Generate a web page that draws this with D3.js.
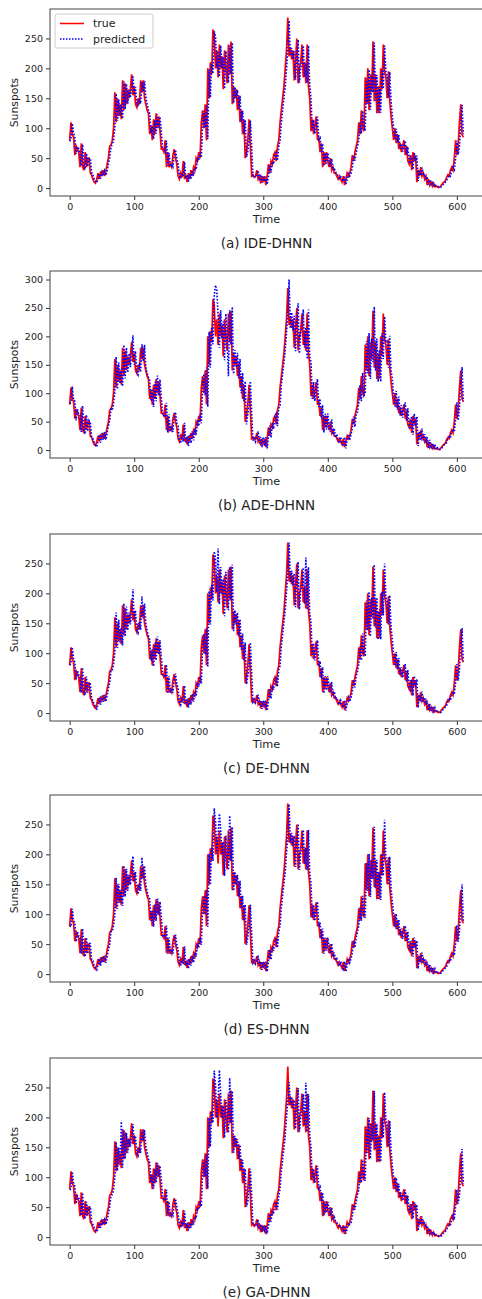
<!DOCTYPE html>
<html>
<head>
<meta charset="utf-8">
<script src="https://cdn.jsdelivr.net/npm/d3@7"></script>
<style>
  body { margin: 0; background: #fff; }
  text { font-family: "DejaVu Sans", sans-serif; fill: #222; }
</style>
</head>
<body>
<div id="my_dataviz"></div>
<script>
// time step between samples (time units)
const timeStep = 2;

// true sunspot series, one value every 2 time units (t = 0 .. 610)
const trueValues = [
  80,110,90,85,55,70,65,60,35,75,
  35,30,60,35,50,50,25,22,15,10,
  8,15,25,15,28,20,30,20,28,40,
  50,70,72,80,100,160,110,150,120,140,
  115,180,130,175,140,165,150,165,190,155,
  170,140,135,150,140,180,160,180,150,140,
  130,125,90,105,80,115,90,125,100,120,
  95,65,65,60,80,35,60,35,40,35,
  55,65,50,40,20,15,25,18,45,15,
  22,10,25,15,30,20,35,30,50,45,
  60,50,110,130,100,140,80,200,150,210,
  190,265,255,200,230,185,240,200,220,165,
  230,200,175,240,190,245,140,170,150,165,
  130,155,110,130,90,115,50,60,80,115,
  70,20,22,18,20,30,15,20,8,20,
  10,20,5,20,40,25,45,40,55,60,
  45,70,80,110,130,150,170,200,230,285,
  220,235,215,230,180,215,250,175,200,210,
  240,185,210,175,240,170,150,95,115,90,
  105,120,80,85,60,75,35,60,40,60,
  45,35,50,30,35,25,25,20,15,20,
  15,10,20,5,15,25,20,25,35,55,
  45,60,70,80,110,90,130,100,95,185,
  140,200,130,190,160,245,145,190,125,170,
  125,200,165,240,195,185,150,195,145,120,
  100,80,100,75,90,65,75,60,70,80,
  55,70,45,40,55,30,60,45,55,10,
  30,20,35,20,25,15,20,5,15,5,
  10,3,8,2,3,2,1,2,5,8,
  10,12,18,22,20,30,35,30,50,80,
  55,70,110,140,90,85
];

// predicted series for each model
const predIDE = [
  78,82,108,92,84,57,69,66,58,37,
  73,37,31,58,36,49,50,26,23,15,
  11,9,15,24,16,27,21,29,21,28,
  40,51,69,73,80,101,158,112,148,121,
  139,116,178,132,174,141,164,151,165,188,
  156,169,141,136,149,141,178,161,179,151,
  140,131,124,92,104,82,114,91,123,101,
  119,94,66,65,61,79,37,59,36,40,
  36,54,64,50,40,21,16,25,19,44,
  16,22,11,24,16,30,21,34,31,49,
  46,59,51,108,129,101,139,82,198,151,
  208,191,262,254,201,229,186,238,201,219,
  166,229,199,176,238,191,243,142,169,151,
  164,131,154,111,129,91,114,52,61,80,
  113,70,21,22,18,20,29,16,20,9,
  19,11,19,6,20,39,26,44,40,54,
  59,46,69,80,109,130,150,170,199,230,
  280,221,234,216,229,181,214,248,176,200,
  209,238,186,209,176,238,171,149,96,114,
  91,104,119,81,84,61,74,37,59,41,
  59,45,36,49,31,34,26,25,20,16,
  19,15,11,19,6,15,24,20,25,35,
  54,46,59,70,80,109,91,129,101,96,
  183,141,198,131,189,160,243,146,189,126,
  169,126,198,166,238,195,184,151,194,146,
  120,100,81,99,76,89,66,74,61,70,
  79,56,69,46,41,54,31,59,45,54,
  12,29,21,34,21,24,16,19,6,14,
  6,9,4,7,3,3,2,1,2,5,
  8,10,12,18,22,20,29,35,31,49,
  79,56,69,109,139,90
];

const predADE = [
  82,84,112,88,86,52,72,63,62,32,
  78,33,28,62,33,52,48,23,20,13,
  9,6,16,27,13,30,18,32,18,30,
  42,52,72,70,82,103,164,107,154,117,
  143,112,185,126,180,136,170,146,169,202,
  150,174,136,132,153,137,186,156,185,146,
  136,128,122,86,108,76,120,86,131,96,
  124,92,62,62,58,83,31,63,32,42,
  32,58,67,47,42,17,12,27,15,48,
  12,24,7,28,12,33,17,38,27,53,
  42,63,47,115,134,96,145,76,208,145,
  216,186,272,290,280,236,180,246,196,226,
  158,240,196,130,246,185,252,134,176,145,
  171,126,160,100,136,86,121,45,64,76,
  121,66,17,24,15,22,33,12,23,5,
  23,7,23,3,23,43,22,48,37,59,
  64,42,74,77,114,134,154,175,206,238,
  300,214,242,210,236,174,221,258,170,206,
  216,247,180,216,160,247,164,155,90,120,
  86,110,125,76,90,56,79,31,64,36,
  64,41,32,54,27,38,22,28,17,12,
  23,12,7,23,3,18,28,17,28,38,
  59,41,64,67,84,115,86,136,96,100,
  192,135,206,125,196,155,252,140,196,120,
  176,120,206,160,235,190,191,145,201,140,
  125,96,77,104,71,94,61,79,57,74,
  84,51,74,42,37,59,27,64,42,59,
  7,33,17,38,17,28,12,23,3,18,
  3,12,2,10,1,4,1,1,2,6,
  9,11,13,20,24,22,33,37,32,53,
  84,52,74,115,146,86
];

const predDE = [
  80,83,110,91,85,56,71,64,61,34,
  76,34,30,61,34,51,49,24,21,14,
  10,7,15,26,14,29,19,31,19,29,
  41,51,71,71,81,102,168,109,156,118,
  143,113,183,128,178,138,168,148,168,207,
  153,172,138,134,152,139,195,158,183,148,
  138,129,123,88,106,78,118,88,128,98,
  122,93,64,64,59,81,33,62,34,41,
  34,56,66,49,41,19,14,26,17,46,
  14,23,9,26,14,32,19,36,29,51,
  44,61,49,112,132,98,142,78,204,148,
  214,188,270,258,202,275,182,244,198,224,
  162,236,198,172,244,188,248,137,172,148,
  168,128,157,106,133,88,118,48,62,78,
  118,68,19,23,17,21,31,14,21,7,
  21,9,21,4,21,41,24,46,39,56,
  61,44,72,79,112,132,152,172,203,234,
  285,218,238,213,233,177,218,253,173,204,
  212,243,183,260,173,244,167,152,93,117,
  88,107,122,78,87,58,77,33,62,38,
  62,43,34,52,29,36,24,26,19,14,
  21,14,9,21,4,16,26,19,26,36,
  56,43,62,69,82,112,88,133,98,97,
  188,138,203,128,193,157,248,143,193,123,
  173,123,203,163,250,193,188,148,197,143,
  122,98,79,102,73,92,63,77,59,72,
  82,53,72,44,39,56,29,62,44,57,
  9,31,19,36,19,26,14,21,4,16,
  4,11,3,9,2,3,2,1,2,5,
  8,10,12,19,23,21,31,36,31,51,
  82,54,72,112,142,88
];

const predES = [
  81,79,109,89,86,54,71,64,61,34,
  76,34,29,61,34,51,51,24,22,14,
  10,7,16,26,14,29,19,31,19,29,
  41,49,71,71,81,99,161,109,151,119,
  141,114,181,129,176,139,166,149,166,197,
  154,171,139,134,151,139,195,159,181,149,
  139,129,126,89,106,79,116,89,126,99,
  121,96,64,66,59,81,34,61,34,41,
  34,56,66,49,41,19,14,26,17,46,
  14,23,9,26,14,31,19,36,29,51,
  44,61,49,111,131,99,141,79,201,149,
  211,189,277,256,201,231,268,241,199,221,
  164,231,199,174,265,189,246,139,171,149,
  166,129,156,109,131,89,116,49,61,79,
  116,69,19,23,17,21,31,14,21,7,
  21,9,21,4,21,41,24,46,39,56,
  61,44,71,81,111,131,151,171,201,231,
  284,219,236,214,231,179,216,251,174,201,
  211,241,184,211,174,241,169,151,94,116,
  89,106,121,79,86,59,76,34,61,39,
  61,44,34,51,29,36,24,26,19,14,
  21,14,9,21,4,16,26,19,26,36,
  56,44,61,71,81,111,89,131,99,94,
  186,139,201,129,191,159,246,144,191,124,
  171,124,201,164,258,194,186,149,196,144,
  121,99,79,101,74,91,64,76,59,71,
  81,54,71,44,39,56,29,61,44,56,
  9,31,19,36,19,26,14,21,4,16,
  4,11,3,9,2,3,2,1,2,5,
  8,10,12,19,23,21,31,36,31,51,
  81,54,71,111,150,89
];

const predGA = [
  79,81,109,91,84,56,69,66,59,36,
  74,36,31,59,36,49,51,26,21,16,
  11,9,14,24,16,27,21,29,21,27,
  39,51,69,71,79,101,159,111,149,121,
  193,116,179,131,174,141,164,151,164,189,
  156,169,141,136,149,141,179,161,179,151,
  141,131,124,91,104,81,114,91,124,101,
  119,96,66,64,61,79,36,59,36,39,
  36,54,64,51,39,21,16,24,19,44,
  16,21,11,24,16,29,21,34,31,49,
  46,59,51,109,129,101,139,81,199,151,
  209,191,278,254,199,229,279,239,199,219,
  166,229,201,174,266,191,244,141,169,151,
  164,131,154,111,129,91,114,51,59,81,
  114,71,21,21,19,19,29,16,19,9,
  19,11,19,6,19,39,26,44,41,54,
  59,46,69,81,109,129,149,169,199,229,
  259,221,234,216,229,181,214,249,176,199,
  209,239,186,258,176,239,171,149,96,114,
  91,104,119,81,84,61,74,36,59,41,
  59,46,36,49,31,34,26,24,21,16,
  19,16,11,19,6,14,24,21,24,36,
  54,46,59,71,79,109,91,129,101,94,
  184,141,199,131,189,161,244,146,189,126,
  169,126,199,166,242,194,186,151,194,146,
  119,101,81,99,76,89,66,74,61,69,
  79,56,69,46,39,56,31,59,46,54,
  11,29,21,34,21,24,16,19,6,14,
  6,9,4,7,3,3,2,1,2,5,
  8,9,12,17,22,21,29,36,29,51,
  79,56,69,109,147,89
];

const panelTitles = ["(a) IDE-DHNN", "(b) ADE-DHNN", "(c) DE-DHNN", "(d) ES-DHNN", "(e) GA-DHNN"];
const panelPredictions = [predIDE, predADE, predDE, predES, predGA];
const xTickValues = [0, 100, 200, 300, 400, 500, 600];
const yTickValues = [0, 50, 100, 150, 200, 250, 300];
const legendLabels = ["true", "predicted"];

// layout
const pageWidth = 482, pageHeight = 1299;
const plotLeft = 50, plotRight = 483, plotHeight = 187;
const panelTops = [9, 271, 534, 795, 1058];

const svg = d3.select("#my_dataviz")
  .append("svg")
    .attr("width", pageWidth)
    .attr("height", pageHeight);

// x domain like matplotlib autoscale (5% margins)
const tMax = (trueValues.length - 1) * timeStep;
const x = d3.scaleLinear()
    .domain([-0.05 * tMax, tMax * 1.05])
    .range([plotLeft, plotRight]);

panelPredictions.forEach((pred, p) => {
    const top = panelTops[p];
    const bottom = top + plotHeight;
    const g = svg.append("g");

    const allVals = trueValues.concat(pred);
    const [lo, hi] = d3.extent(allVals);
    const pad = (hi - lo) * 0.05;
    const y = d3.scaleLinear()
        .domain([lo - pad, hi + pad])
        .range([bottom, top]);

    // clip for the lines
    g.append("clipPath")
        .attr("id", "clip" + p)
      .append("rect")
        .attr("x", plotLeft)
        .attr("y", top)
        .attr("width", plotRight - plotLeft)
        .attr("height", plotHeight);

    // X axis
    const xAxis = g.append("g")
        .attr("transform", `translate(0,${bottom})`)
        .call(d3.axisBottom(x).tickValues(xTickValues).tickSize(4).tickPadding(3).tickFormat(d3.format("d")));
    // Y axis
    const yAxis = g.append("g")
        .attr("transform", `translate(${plotLeft},0)`)
        .call(d3.axisLeft(y)
            .tickValues(yTickValues.filter(v => v >= y.domain()[0] && v <= y.domain()[1]))
            .tickSize(4).tickPadding(3).tickFormat(d3.format("d")));
    [xAxis, yAxis].forEach(a => {
        a.select(".domain").remove();
        a.selectAll("line").attr("stroke", "#333");
        a.selectAll("text").style("font-size", "9.5px").attr("fill", "#222");
    });

    // lines
    const line = d3.line()
        .x((d, i) => x(i * timeStep))
        .y(d => y(d));

    g.append("path")
        .datum(trueValues)
        .attr("clip-path", `url(#clip${p})`)
        .attr("fill", "none")
        .attr("stroke", "#ff0000")
        .attr("stroke-width", 1.7)
        .attr("d", line);

    g.append("path")
        .datum(pred)
        .attr("clip-path", `url(#clip${p})`)
        .attr("fill", "none")
        .attr("stroke", "#0000ff")
        .attr("stroke-width", 1.6)
        .attr("stroke-dasharray", "1.6,1.6")
        .attr("d", line);

    // frame
    g.append("rect")
        .attr("x", plotLeft)
        .attr("y", top)
        .attr("width", plotRight - plotLeft)
        .attr("height", plotHeight)
        .attr("fill", "none")
        .attr("stroke", "#444")
        .attr("stroke-width", 1);

    // axis labels
    g.append("text")
        .attr("x", (plotLeft + plotRight) / 2)
        .attr("y", bottom + 27)
        .attr("text-anchor", "middle")
        .style("font-size", "11.3px")
        .text("Time");

    g.append("text")
        .attr("transform", `translate(18,${top + plotHeight / 2}) rotate(-90)`)
        .attr("text-anchor", "middle")
        .style("font-size", "10.8px")
        .text("Sunspots");

    // panel title
    g.append("text")
        .attr("x", (plotLeft + plotRight) / 2)
        .attr("y", bottom + 52)
        .attr("text-anchor", "middle")
        .style("font-size", "13.5px")
        .text(panelTitles[p]);

    // legend only on the first panel
    if (p === 0) {
        const lg = g.append("g").attr("transform", `translate(55,${top + 5})`);
        lg.append("rect")
            .attr("width", 98)
            .attr("height", 34)
            .attr("rx", 2)
            .attr("fill", "#fff")
            .attr("fill-opacity", 0.8)
            .attr("stroke", "#ccc");
        legendLabels.forEach((lab, i) => {
            const yy = 9.5 + i * 15.5;
            lg.append("line")
                .attr("x1", 5).attr("x2", 29)
                .attr("y1", yy).attr("y2", yy)
                .attr("stroke", i === 0 ? "#ff0000" : "#0000ff")
                .attr("stroke-width", 1.5)
                .attr("stroke-dasharray", i === 0 ? null : "1.5,1.5");
            lg.append("text")
                .attr("x", 38)
                .attr("y", yy)
                .attr("dy", "0.35em")
                .style("font-size", "11px")
                .text(lab);
        });
    }
});
</script>
</body>
</html>
